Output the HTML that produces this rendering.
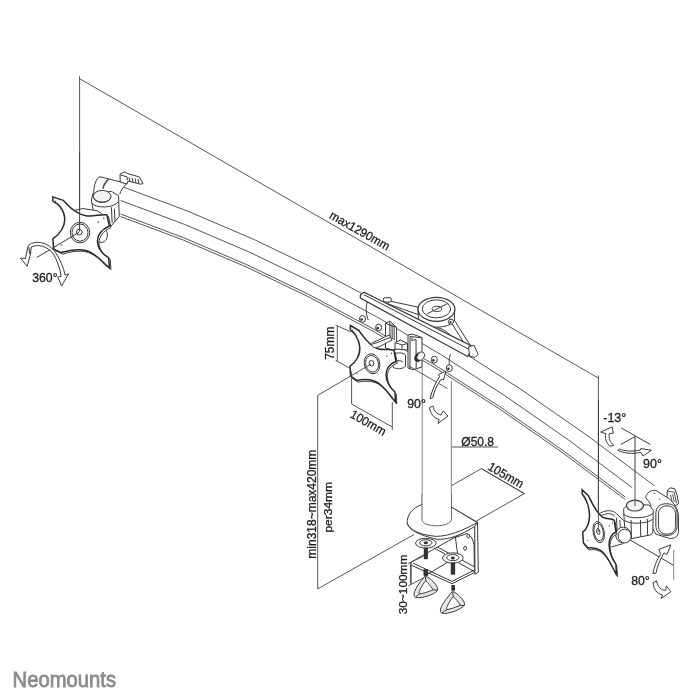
<!DOCTYPE html>
<html><head><meta charset="utf-8">
<style>
html,body{margin:0;padding:0;background:#fff;width:700px;height:700px;overflow:hidden}
svg{display:block;will-change:transform}
text{font-family:"Liberation Sans",sans-serif;fill:#1e1e1e;stroke:#1e1e1e;stroke-width:0.3px}
</style></head>
<body>
<svg width="700" height="700" viewBox="0 0 700 700">
<defs>
<g id="plate">
 <!-- plate thickness -->
 <path vector-effect="non-scaling-stroke" fill="#fff" transform="translate(11,11)" d="M90,118 L162,142 C200,180 250,240 330,252 C390,258 420,236 468,244 L486,322 C430,345 400,390 402,430 C405,480 440,520 480,544 L486,616 C440,580 380,500 300,490 C240,482 190,495 150,508 L96,484 L90,412 C140,380 180,320 172,260 C165,200 120,160 90,148 Z"/>
 <!-- plate -->
 <path vector-effect="non-scaling-stroke" fill="#fff" stroke-width="1.5" stroke="#2a2a2a" d="M90,118 L162,142 C200,180 250,240 330,252 C390,258 420,236 468,244 L486,322 C430,345 400,390 402,430 C405,480 440,520 480,544 L486,616 C440,580 380,500 300,490 C240,482 190,495 150,508 L96,484 L90,412 C140,380 180,320 172,260 C165,200 120,160 90,148 Z"/>
 <ellipse vector-effect="non-scaling-stroke" cx="280" cy="368" rx="68" ry="72"/>
 <ellipse vector-effect="non-scaling-stroke" cx="280" cy="368" rx="56" ry="60"/>
 <circle vector-effect="non-scaling-stroke" cx="275" cy="365" r="20"/>
 <g fill="#666" stroke="none">
  <circle cx="108" cy="150" r="6"/><circle cx="150" cy="205" r="6"/><circle cx="447" cy="268" r="6"/><circle cx="408" cy="295" r="6"/>
  <circle cx="405" cy="540" r="6"/><circle cx="452" cy="592" r="6"/><circle cx="150" cy="455" r="6"/><circle cx="100" cy="470" r="5"/>
 </g>
</g>
</defs>
<g fill="none" stroke="#444" stroke-width="0.9" stroke-linecap="round" stroke-linejoin="round">
<!-- dimension lines -->
<path d="M79.6 76.5 V232 M79.6 78.7 L598.4 378.1 M598.4 376 V532"/>
<!-- arc -->
<path d="M121.0 186.2 Q387.5 278.6 654.0 485.5"/>
<path d="M121.0 200.6 Q376.5 289.3 632.0 487.5"/>
<path d="M121.0 214.2 Q373.0 301.9 625.0 496.8"/>
<path d="M121.0 216.7 Q373.0 304.4 625.0 499.3"/>
<!-- pole -->

</g>

<!-- LEFT MOUNT (zoom coords of [40,180,140,280] @7x) -->
<g transform="translate(40,180) scale(0.142857)" fill="none" stroke="#3a3a3a" stroke-width="1" vector-effect="non-scaling-stroke">
 <!-- end cap band -->
 <path vector-effect="non-scaling-stroke" fill="#fff" d="M376,90 C378,30 395,-15 420,-23 L608,25 C580,50 565,75 558,100"/>
 <path vector-effect="non-scaling-stroke" stroke-width="1.4" d="M480,-5 C462,12 445,35 440,62"/>
 <!-- box under knob -->
 <path vector-effect="non-scaling-stroke" fill="#fff" d="M360,140 L370,95 L500,80 L550,110 L555,255 L495,325 L420,330 L380,250 Z"/>
 <path vector-effect="non-scaling-stroke" d="M365,160 C380,200 520,200 550,150 M500,190 L505,300 M520,200 L525,290"/>
 <!-- knob -->
 <ellipse vector-effect="non-scaling-stroke" cx="435" cy="115" rx="62" ry="42" fill="#f4f4f4"/>
 <path vector-effect="non-scaling-stroke" d="M373,118 C380,165 490,170 497,118"/>
 <!-- bracket behind plate -->
 <path vector-effect="non-scaling-stroke" fill="#fff" d="M230,215 L300,200 L400,215 L430,235 L420,300 L300,270 Z"/>
 <path vector-effect="non-scaling-stroke" fill="#fff" d="M400,330 C450,320 480,360 470,400 C460,440 420,450 400,420 Z"/>
 <use href="#plate"/>
 <!-- axis line -->
 <path vector-effect="non-scaling-stroke" d="M275,365 L-22,542"/>
 <path vector-effect="non-scaling-stroke" stroke="#444" d="M277.2,-200 L277.2,362"/>
</g>


<!-- CENTER MOUNT G1 (zoom [340,275,490,425] @4.6667) -->
<g transform="translate(340,275) scale(0.2142857)" fill="none" stroke="#3a3a3a">
 <!-- tube band edges -->
 <path vector-effect="non-scaling-stroke" d="M128,125 C118,160 122,185 132,210 M515,370 C508,390 508,410 512,430"/>
 <!-- bolts -->
 <g fill="#fff">
 <ellipse vector-effect="non-scaling-stroke" cx="105" cy="205" rx="14" ry="16"/><ellipse vector-effect="non-scaling-stroke" cx="180" cy="245" rx="14" ry="16"/>
 <ellipse vector-effect="non-scaling-stroke" cx="440" cy="395" rx="14" ry="16"/><ellipse vector-effect="non-scaling-stroke" cx="510" cy="435" rx="14" ry="16"/>
 </g>
 <g fill="#333" stroke="none"><circle cx="101" cy="208" r="6"/><circle cx="176" cy="248" r="6"/><circle cx="436" cy="398" r="6"/><circle cx="506" cy="438" r="6"/></g>
 <!-- struts left -->
 <path vector-effect="non-scaling-stroke" fill="#fff" d="M225,120 L365,150 L365,185 L225,135 Z"/>
 <rect vector-effect="non-scaling-stroke" x="203" y="106" width="36" height="20" rx="6" fill="#fff"/>
 <!-- right strut -->
 <path vector-effect="non-scaling-stroke" fill="#fff" d="M515,215 L532,208 L612,335 L596,345 Z"/>
 <path vector-effect="non-scaling-stroke" d="M455,245 C500,255 540,300 552,340"/>
 <!-- knob -->
 <path vector-effect="non-scaling-stroke" fill="#fff" d="M365,160 L366,205 C385,255 515,255 534,210 L535,160"/>
 <ellipse vector-effect="non-scaling-stroke" cx="518" cy="218" rx="12" ry="12" fill="#fff"/>
 <circle cx="516" cy="220" r="5" fill="#333" stroke="none"/>
 <ellipse vector-effect="non-scaling-stroke" cx="450" cy="160" rx="86" ry="56" fill="#fff" stroke-width="1.2"/>
 <ellipse vector-effect="non-scaling-stroke" cx="450" cy="158" rx="66" ry="42"/>
 <ellipse vector-effect="non-scaling-stroke" cx="452" cy="158" rx="22" ry="12"/>
 <path vector-effect="non-scaling-stroke" d="M405,182 L505,132"/>
 <!-- top bar -->
 <path vector-effect="non-scaling-stroke" fill="#fff" stroke-width="1.2" d="M95,92 L112,80 L628,338 L612,352 L596,380 L95,108 Z"/>
 <path vector-effect="non-scaling-stroke" d="M112,92 L612,352"/>
 <path vector-effect="non-scaling-stroke" fill="#fff" d="M600,335 L625,328 L645,370 L630,385 L605,378 Z"/>
</g>

<!-- CENTER HOLDER G2 (zoom [380,315,450,385] @10) -->
<g transform="translate(380,315) scale(0.1)" fill="#fff" stroke="#3a3a3a">
 <!-- left U bracket -->
 <path vector-effect="non-scaling-stroke" d="M55,82 L98,62 L165,122 L168,340 L120,350 L55,330 Z"/>
 <path vector-effect="non-scaling-stroke" d="M98,62 L100,230 M120,88 L122,240 M140,105 L142,250 M55,82 L120,110 L165,122"/>
 <!-- small box -->
 <path vector-effect="non-scaling-stroke" d="M150,275 L205,250 L275,285 L275,350 L150,340 Z"/>
 <path vector-effect="non-scaling-stroke" d="M150,275 L220,300 L275,285 M220,300 L220,345"/>
 <!-- holder -->
 <path vector-effect="non-scaling-stroke" d="M280,200 L320,190 L420,225 L420,520 L330,548 L280,530 Z"/>
 <path vector-effect="non-scaling-stroke" d="M300,215 L300,540 M320,225 L318,255 L360,245 L362,535 M300,215 L418,228"/>
 <!-- hinge cylinder -->
 <path vector-effect="non-scaling-stroke" d="M140,395 C170,370 230,375 255,400 L255,510 C230,545 160,545 130,520 Z"/>
 <path vector-effect="non-scaling-stroke" d="M150,470 C170,450 210,455 230,470"/>
 <!-- knurled knob -->
 <ellipse vector-effect="non-scaling-stroke" cx="388" cy="420" rx="36" ry="50" fill="#2a2a2a" transform="rotate(35 388 420)"/>
 <ellipse vector-effect="non-scaling-stroke" cx="408" cy="412" rx="34" ry="46" fill="#fff" transform="rotate(35 408 412)"/>
</g>

<!-- center plate -->
<g transform="matrix(0.8106,0.1396,-0.01028,0.9648,309.58,128.21)"><g transform="translate(40,180) scale(0.142857)" fill="none" stroke="#3a3a3a"><use href="#plate"/></g></g>

<!-- strap over plate notch (zoom [340,315,410,405] @7.77) -->
<g transform="translate(340,315) scale(0.1287)" fill="#fff" stroke="#3a3a3a">
 <path vector-effect="non-scaling-stroke" d="M250,215 C300,200 340,170 385,155 L405,195 C360,215 320,245 280,255 C255,255 240,240 250,215 Z"/>
 <path vector-effect="non-scaling-stroke" d="M255,225 C300,215 350,185 395,175"/>
</g>

<!-- DIMENSIONS CENTER/POLE -->
<g fill="none" stroke="#444" stroke-width="0.9">
 <path d="M337.3 326 V361 M335.6 325.1 L351 332 M335.6 360.3 L351 368.9"/>
 <path d="M351.6 371.4 V404 L392.3 427.1 M392.3 402 V430"/>
 <path d="M371 364 L317.7 395.4 V588.9 L414 534.5 M475.7 521.4 L524.3 493.6 L481.4 468.6 L451.4 485.7"/>
 <path d="M451 447 H498"/>
</g>
<!-- pole -->
<path d="M422.2 364 V530 H451.3 V381" fill="#fff" stroke="#777" stroke-width="0.9"/>
<path d="M409 366 L447.4 388.6" fill="none" stroke="#444" stroke-width="0.9"/>
<path d="M481.4 468.6 L524.3 493.6" fill="none" stroke="#444" stroke-width="0.9"/>
<!-- 90 arrows center (zoom [400,375,470,445] @10) -->
<g transform="translate(400,375) scale(0.1)" fill="#fff" stroke="#3a3a3a">
 <path vector-effect="non-scaling-stroke" d="M295,325 L330,310 C340,360 370,395 410,400 L432,360 L480,410 L380,485 L392,445 C340,432 300,385 295,325 Z"/>
</g>
<g transform="translate(415,350) scale(0.0714286)" fill="#fff" stroke="#3a3a3a">
 <path vector-effect="non-scaling-stroke" d="M210,680 C240,560 290,450 345,375 L330,345 L432,295 L400,420 L368,408 C310,480 265,580 250,670 Z"/>
</g>
<!-- right arrows (zoom [595,400,675,480] @8.75) -->
<g transform="translate(595,400) scale(0.1142857)" fill="#fff" stroke="#3a3a3a">
 <path vector-effect="non-scaling-stroke" d="M130,405 C95,370 85,330 95,295 L50,280 L150,235 L160,290 L125,295 C118,330 128,370 165,395 Z"/>
 <path vector-effect="non-scaling-stroke" d="M200,440 C250,470 340,472 402,458 L420,490 L495,440 L400,425 L396,438 C340,450 260,452 212,428 Z"/>
 <path vector-effect="non-scaling-stroke" d="M30,0 V700 M350,320 V700 M230,245 L485,390 M225,390 L350,320" fill="none"/>
</g>
<!-- 80 arrows (zoom [620,530,680,610] @8.75) -->
<g transform="translate(620,530) scale(0.1142857)" fill="#fff" stroke="#3a3a3a">
 <path vector-effect="non-scaling-stroke" fill="none" d="M60,70 L470,310"/>
 <path vector-effect="non-scaling-stroke" fill="none" stroke="#888" d="M470,175 V440"/>
 <path vector-effect="non-scaling-stroke" d="M288,380 C300,320 320,260 355,215 L340,170 L445,130 L410,215 L385,200 C350,260 325,320 315,378 Z"/>
 <path vector-effect="non-scaling-stroke" d="M290,460 L320,445 C330,500 360,528 400,528 L405,490 L445,540 L360,600 L372,568 C320,558 290,510 290,460 Z"/>
</g>

<!-- DESK CLAMP upper (zoom [395,495,485,585] @7.78) -->
<g transform="translate(395,495) scale(0.128535)" fill="#fff" stroke="#3a3a3a">
 <!-- clamp body inner face -->
 <path vector-effect="non-scaling-stroke" d="M440,95 L640,212 L625,240 L620,600 L500,560 L470,330 Z"/>
 <path vector-effect="non-scaling-stroke" fill="none" d="M470,330 L560,300 C600,320 612,360 615,400 L618,600"/>
 <ellipse vector-effect="non-scaling-stroke" cx="570" cy="320" rx="11" ry="15"/><ellipse vector-effect="non-scaling-stroke" cx="545" cy="415" rx="11" ry="15"/>
 <!-- lower plate -->
 <path vector-effect="non-scaling-stroke" d="M125,522 L330,405 L620,560 L625,600 L444,690 L125,545 Z"/>
 <path vector-effect="non-scaling-stroke" fill="none" d="M330,405 L498,311"/>
 <path vector-effect="non-scaling-stroke" fill="none" d="M140,530 L444,672 L625,580 M257,615 L451,498 M303,412 L389,459 M498,529 L622,599 M125,545 L125,700"/>
 <!-- right strip -->
 <path vector-effect="non-scaling-stroke" d="M620,225 L642,212 L648,600 L622,618 Z"/>
 <!-- base plate -->
 <path vector-effect="non-scaling-stroke" d="M215,72 C130,100 92,160 95,220 C110,265 170,310 330,345 C420,345 500,320 620,245 L640,215 L440,95 Z"/>
 <path vector-effect="non-scaling-stroke" fill="none" d="M95,220 C120,280 200,310 320,322 C420,320 520,280 640,215"/>
 <!-- pole -->
 <path vector-effect="non-scaling-stroke" stroke="#666" d="M210,-10 L210,195 C220,255 430,255 440,190 L440,-10"/>
 <!-- washers & bolts -->
 <ellipse vector-effect="non-scaling-stroke" cx="240" cy="375" rx="80" ry="38"/><ellipse vector-effect="non-scaling-stroke" cx="240" cy="372" rx="48" ry="24"/>
 <ellipse vector-effect="non-scaling-stroke" cx="450" cy="490" rx="80" ry="40"/><ellipse vector-effect="non-scaling-stroke" cx="450" cy="487" rx="48" ry="24"/>
 <g fill="#333" stroke="none">
  <rect x="224" y="410" width="32" height="90" rx="6"/><rect x="434" y="525" width="34" height="95" rx="6"/>
  <rect x="224" y="580" width="32" height="50" rx="6"/>
  <ellipse cx="240" cy="372" rx="16" ry="12"/><ellipse cx="450" cy="490" rx="16" ry="12"/>
 </g>
</g>
<!-- DESK CLAMP lower (zoom [395,555,475,635] @8.75) -->
<g transform="translate(395,555) scale(0.1142857)" fill="#fff" stroke="#3a3a3a">
 <path vector-effect="non-scaling-stroke" fill="none" stroke="#555" d="M135,60 V250 M115,75 L250,10 M115,270 L270,190"/>
 <g fill="#333" stroke="none"><rect x="493" y="262" width="32" height="50" rx="5"/><rect x="250" y="125" width="38" height="55" rx="5"/></g>
 <path vector-effect="non-scaling-stroke" fill="#e6e6e6" d="M262,185 C300,190 385,270 372,310 C340,350 240,380 180,372 C150,355 165,300 262,185 Z"/>
 <path vector-effect="non-scaling-stroke" fill="#fff" d="M268,225 C280,230 330,290 330,305 C300,320 240,340 212,340 C205,320 240,260 268,225 Z"/>
 <path vector-effect="non-scaling-stroke" fill="none" d="M268,190 L268,225 M180,368 L212,340 M370,308 L330,305"/>
 <path vector-effect="non-scaling-stroke" fill="#e6e6e6" d="M502,318 C540,330 620,400 608,440 C570,480 470,520 410,510 C380,490 400,440 502,318 Z"/>
 <path vector-effect="non-scaling-stroke" fill="#fff" d="M508,365 C520,370 570,425 570,440 C540,455 480,475 452,478 C445,458 480,400 508,365 Z"/>
 <path vector-effect="non-scaling-stroke" fill="none" d="M506,322 L508,365 M412,505 L452,478 M606,442 L570,440"/>
</g>

<!-- RIGHT MOUNT (zoom [565,475,685,595] @5.8333) -->
<g transform="translate(565,475) scale(0.1714286)" fill="#fff" stroke="#3a3a3a">
 <!-- handle -->
 <path vector-effect="non-scaling-stroke" d="M598,88 L615,75 L640,80 L655,120 L662,168 L645,178 L630,165 L610,160 L595,125 Z"/>
 <path vector-effect="non-scaling-stroke" fill="none" stroke="#555" d="M600,95 L638,100 L650,165 M615,115 L625,155 M628,112 L638,158"/>
 <!-- end cylinder -->
 <path vector-effect="non-scaling-stroke" d="M470,130 C480,100 505,85 530,90 L610,140 C640,170 660,200 662,240 L662,330 C660,360 640,372 610,370 L530,345 L505,300 L500,170 Z"/>
 <rect vector-effect="non-scaling-stroke" x="530" y="168" width="124" height="184" rx="52" ry="52"/>
 <rect vector-effect="non-scaling-stroke" x="545" y="180" width="100" height="165" rx="45" ry="45" fill="none"/>
 <g fill="#444" stroke="none"><circle cx="522" cy="106" r="4"/><circle cx="552" cy="140" r="4"/></g>
 <!-- left tilt band -->
 <path vector-effect="non-scaling-stroke" d="M195,228 C230,205 275,200 300,225 C330,250 350,280 380,300 L390,345 L330,365 L300,330 C280,290 250,262 205,250 Z"/>
 <path vector-effect="non-scaling-stroke" fill="none" d="M205,240 C240,222 270,220 290,240 M300,250 L305,330 M320,262 L325,345"/>
 <!-- box under knob -->
 <path vector-effect="non-scaling-stroke" d="M342,200 C345,185 370,172 400,172 L490,175 L515,205 L512,330 L505,348 L385,372 L350,330 L345,260 Z"/>
 <path vector-effect="non-scaling-stroke" fill="none" d="M345,230 C370,258 480,255 512,225 M348,265 C380,290 480,285 512,258 M385,262 L388,370 M440,262 L442,360 M480,255 L482,350"/>
 <!-- knob -->
 <ellipse vector-effect="non-scaling-stroke" cx="408" cy="178" rx="50" ry="32" fill="#f0f0f0" stroke-width="1.2"/>
 <!-- tilt knob -->
 <ellipse vector-effect="non-scaling-stroke" cx="340" cy="350" rx="44" ry="46"/>
 <ellipse vector-effect="non-scaling-stroke" cx="348" cy="356" rx="38" ry="40"/>
 <path vector-effect="non-scaling-stroke" fill="none" d="M270,420 L340,400"/>
</g>
<!-- right plate -->
<g transform="matrix(0.5902,0.2320,0.01296,1.0101,548.45,278.64)"><g transform="translate(40,180) scale(0.142857)" fill="none" stroke="#3a3a3a"><use href="#plate"/></g></g>
<path d="M598.4 480 V532 M635 480 V506" fill="none" stroke="#444" stroke-width="0.9"/>
<!-- 360 arrow (zoom [10,230,90,300] @8.75) -->
<g transform="translate(10,230) scale(0.1142857)" fill="#fff" stroke="#3a3a3a">
 <path vector-effect="non-scaling-stroke" d="M160,135 C230,80 340,110 400,200 C440,260 470,330 482,395 L512,383 L452,490 L418,412 L448,405 C440,340 410,260 380,210 C330,140 240,120 185,150 L180,210 L150,318 L92,245 L135,250 Z"/>
 <path vector-effect="non-scaling-stroke" d="M165,150 L172,210"/>
</g>
<!-- left handle (zoom [85,165,155,235] @10x) -->
<g transform="translate(85,165) scale(0.1)" fill="#fff" stroke="#3a3a3a">
 <path vector-effect="non-scaling-stroke" d="M350,90 L395,70 L425,85 L545,120 L580,185 L555,192 L430,160 L420,190 L352,170 Z"/>
 <path vector-effect="non-scaling-stroke" d="M355,100 L420,118 L425,150 M440,125 L450,170 M470,130 L480,175 M500,135 L510,180 M530,140 L540,185"/>
</g>

<text font-size="12.20" transform="translate(328.60,217.75) rotate(29.5) scale(0.950,1)">max1290mm</text>
<text font-size="12.10" transform="translate(334.05,359.80) rotate(-90) scale(0.988,1)">75mm</text>
<text font-size="12.30" transform="translate(349.25,416.75) rotate(29.5) scale(0.950,1)">100mm</text>
<text font-size="11.86" transform="translate(407.20,408.30) scale(1.037,1)">90°</text>
<text font-size="12.00" transform="translate(315.50,558.70) rotate(-90)">min318~max420mm</text>
<text font-size="10.95" transform="translate(332.40,532.55) rotate(-90) scale(1.096,1)">per34mm</text>
<text font-size="12.61" transform="translate(461.30,445.95) scale(0.953,1)">Ø50.8</text>
<text font-size="12.07" transform="translate(603.25,422.35) scale(1.036,1)">-13°</text>
<text font-size="12.07" transform="translate(643.05,467.65) scale(1.033,1)">90°</text>
<text font-size="11.99" transform="translate(631.25,584.80) scale(1.022,1)">80°</text>
<text font-size="11.76" transform="translate(406.85,614.35) rotate(-90) scale(1.011,1)">30~100mm</text>
<text font-size="12.30" transform="translate(486.90,468.90) rotate(30) scale(0.950,1)">105mm</text>
<text font-size="12.00" transform="translate(32.20,282.40) scale(1.022,1)">360°</text>
<text font-size="21.43" transform="translate(12.6,687.00) scale(0.945,1)" style="fill:#8c8c8c;stroke:#8c8c8c;stroke-width:0.8px">Neomounts</text>

</svg>
</body></html>
